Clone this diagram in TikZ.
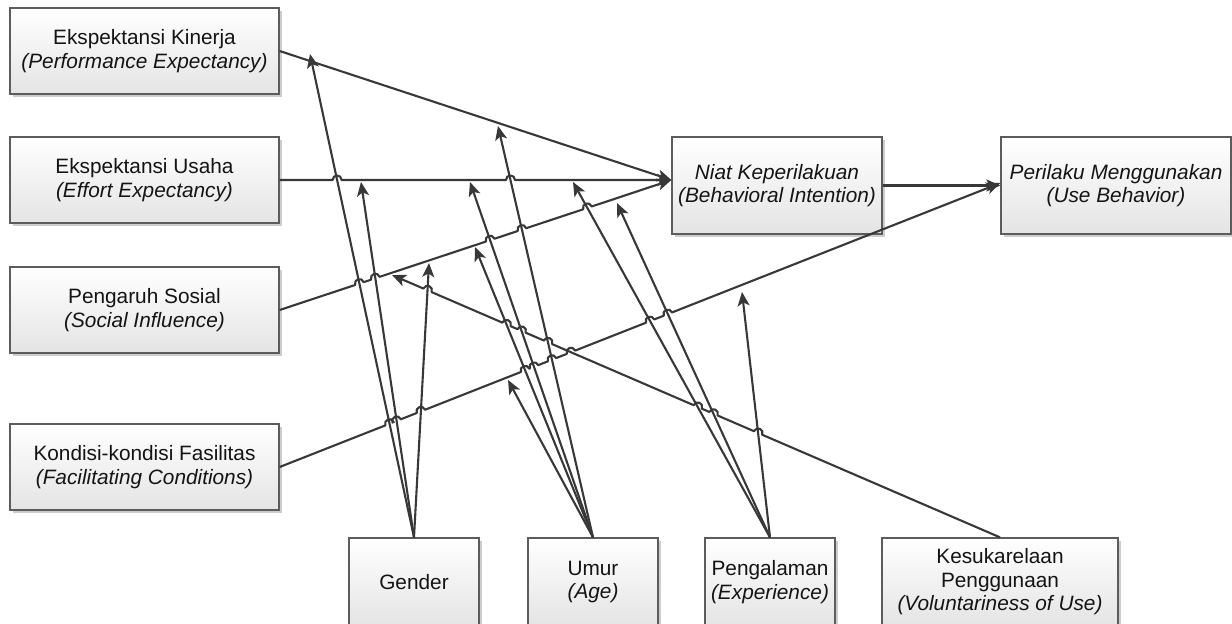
\documentclass[tikz,border=0pt]{standalone}
\usepackage{fontspec}
\setmainfont{Liberation Sans}
\usetikzlibrary{arrows.meta,calc,shadows}

\definecolor{edgeclr}{HTML}{383838}
\definecolor{frameclr}{HTML}{5C5C5C}
\definecolor{fillbot}{HTML}{E4E4E4}
\definecolor{shadowclr}{HTML}{CDCDCD}
\definecolor{textclr}{HTML}{141414}

\newcommand\boxfont{\fontsize{20.8}{23.5}\selectfont}
% line jumps: a small semicircle over a crossing line
% #1 crossing point, #2 start of the line, #3 end of the line
\newcommand\hopup[3]{-- ($(#1)!4.5pt!(#2)$) to[bend left=90,looseness=1.7] ($(#1)!4.5pt!(#3)$)}
\newcommand\hopdn[3]{-- ($(#1)!4.5pt!(#2)$) to[bend right=90,looseness=1.7] ($(#1)!4.5pt!(#3)$)}

\begin{document}
\begin{tikzpicture}[x=1pt,y=1pt,
  box/.style={draw=frameclr, line width=1.3pt, top color=white, bottom color=fillbot,
    drop shadow={shadow xshift=3pt, shadow yshift=-3pt, fill=shadowclr, opacity=1},
    align=center, inner sep=0pt, text=textclr, font=\boxfont},
  leftbox/.style={box, minimum width=269pt, minimum height=86pt},
  outbox/.style={box, minimum height=97pt},
  modbox/.style={box, minimum width=130pt, minimum height=88pt},
  conn/.style={draw=edgeclr, line width=2.1pt, line join=round,
    -{Stealth[length=14pt,width=12pt,inset=3.5pt]}},
]
\useasboundingbox (0,0) rectangle (1232,-624);
\clip (0,0) rectangle (1232,-624);

% constructs
\node[leftbox] (PE) at (144.5,-51)  {Ekspektansi Kinerja\\\textit{(Performance Expectancy)}};
\node[leftbox] (EE) at (144.5,-180) {Ekspektansi Usaha\\\textit{(Effort Expectancy)}};
\node[leftbox] (SI) at (144.5,-310) {Pengaruh Sosial\\\textit{(Social Influence)}};
\node[leftbox] (FC) at (144.5,-467) {Kondisi-kondisi Fasilitas\\\textit{(Facilitating Conditions)}};
\node[outbox, minimum width=210pt] (BI) at (777,-185.5)
  {\textit{Niat Keperilakuan}\\\textit{(Behavioral Intention)}};
\node[outbox, minimum width=230pt] (UB) at (1116,-185.5)
  {\textit{Perilaku Menggunakan}\\\textit{(Use Behavior)}};

% moderators
\node[modbox] (GE) at (414,-582) {Gender};
\node[modbox] (AG) at (593,-582) {Umur\\\textit{(Age)}};
\node[modbox] (EX) at (770,-582) {Pengalaman\\\textit{(Experience)}};
\node[modbox, minimum width=236pt] (VO) at (1000,-582)
  {Kesukarelaan\\Penggunaan\\\textit{(Voluntariness of Use)}};

% where the arrows end
\coordinate (biin) at ([yshift=5.5pt]BI.west);
\coordinate (ubin) at ([yshift=2.5pt]UB.west);
\coordinate (gPE) at (310,-54);
\coordinate (gEE) at (361,-182);
\coordinate (gSI) at (429,-263);
\coordinate (uPE) at (498,-126);
\coordinate (uEE) at (470,-182);
\coordinate (uSI) at (475,-247);
\coordinate (uFC) at (508,-380);
\coordinate (pEE) at (573,-182);
\coordinate (pSI) at (617,-203);
\coordinate (pFC) at (742,-292);
\coordinate (vSI) at (392,-275);
\coordinate (pe) at (PE.east);
\coordinate (ee) at (EE.east);
\coordinate (si) at (SI.east);
\coordinate (fc) at (FC.east);
\coordinate (ge) at (GE.north);
\coordinate (ag) at (AG.north);
\coordinate (ex) at (EX.north);
\coordinate (vo) at (VO.north);

% crossings that get a line jump
\coordinate (e1) at (intersection of ee--biin and ge--gPE);
\coordinate (e2) at (intersection of ee--biin and ag--uPE);
\coordinate (s1) at (intersection of si--biin and ge--gPE);
\coordinate (s2) at (intersection of si--biin and ge--gEE);
\coordinate (s3) at (intersection of si--biin and ag--uEE);
\coordinate (s4) at (intersection of si--biin and ag--uPE);
\coordinate (s5) at (intersection of si--biin and ex--pEE);
\coordinate (f1) at (intersection of fc--ubin and ge--gPE);
\coordinate (f2) at (intersection of fc--ubin and ge--gEE);
\coordinate (f3) at (intersection of fc--ubin and ge--gSI);
\coordinate (f4) at (intersection of fc--ubin and ag--uSI);
\coordinate (f5) at (intersection of fc--ubin and ag--uEE);
\coordinate (f6) at (intersection of fc--ubin and ag--uPE);
\coordinate (f7) at (intersection of fc--ubin and vo--vSI);
\coordinate (f8) at (intersection of fc--ubin and ex--pEE);
\coordinate (f9) at (intersection of fc--ubin and ex--pSI);
\coordinate (v1) at (intersection of vo--vSI and ex--pFC);
\coordinate (v2) at (intersection of vo--vSI and ex--pSI);
\coordinate (v3) at (intersection of vo--vSI and ex--pEE);
\coordinate (v4) at (intersection of vo--vSI and ag--uPE);
\coordinate (v5) at (intersection of vo--vSI and ag--uEE);
\coordinate (v6) at (intersection of vo--vSI and ag--uSI);
\coordinate (v7) at (intersection of vo--vSI and ge--gSI);

% moderating arrows
\draw[conn] (GE.north) -- (gPE);
\draw[conn] (GE.north) -- (gEE);
\draw[conn] (GE.north) -- (gSI);
\draw[conn] (AG.north) -- (uPE);
\draw[conn] (AG.north) -- (uEE);
\draw[conn] (AG.north) -- (uSI);
\draw[conn] (AG.north) -- (uFC);
\draw[conn] (EX.north) -- (pEE);
\draw[conn] (EX.north) -- (pSI);
\draw[conn] (EX.north) -- (pFC);
\draw[conn] (VO.north) \hopdn{v1}{vo}{vSI} \hopdn{v2}{vo}{vSI} \hopdn{v3}{vo}{vSI}
  \hopdn{v4}{vo}{vSI} \hopdn{v5}{vo}{vSI} \hopdn{v6}{vo}{vSI} \hopdn{v7}{vo}{vSI} -- (vSI);

% main paths
\draw[conn] (PE.east) -- (biin);
\draw[conn] (EE.east) \hopup{e1}{ee}{biin} \hopup{e2}{ee}{biin} -- (biin);
\draw[conn] (SI.east) \hopup{s1}{si}{biin} \hopup{s2}{si}{biin} \hopup{s3}{si}{biin}
  \hopup{s4}{si}{biin} \hopup{s5}{si}{biin} -- (biin);
\draw[conn] (FC.east) \hopup{f1}{fc}{ubin} \hopup{f2}{fc}{ubin} \hopup{f3}{fc}{ubin}
  \hopup{f4}{fc}{ubin} \hopup{f5}{fc}{ubin} \hopup{f6}{fc}{ubin} \hopup{f7}{fc}{ubin}
  \hopup{f8}{fc}{ubin} \hopup{f9}{fc}{ubin} -- (ubin);
\draw[conn] (BI.east) -- (UB.west);
\end{tikzpicture}
\end{document}
